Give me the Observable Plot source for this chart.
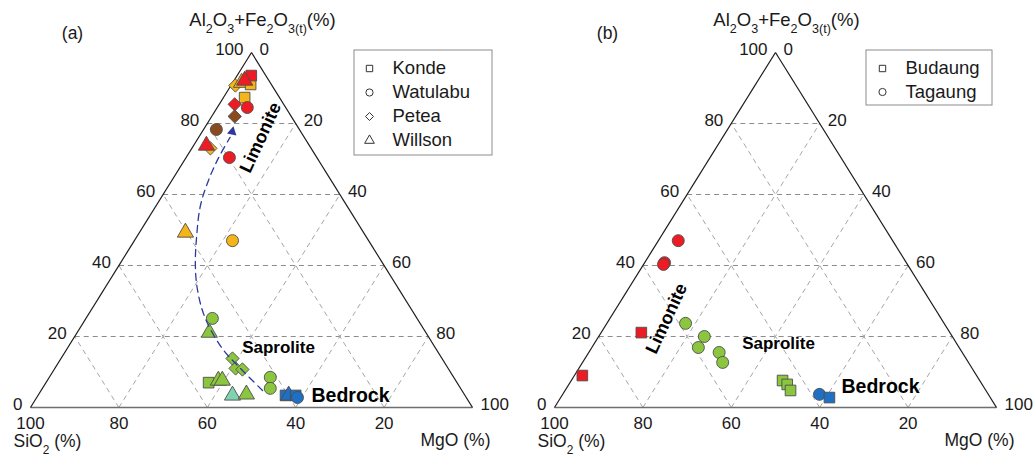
<!DOCTYPE html>
<html>
<head>
<meta charset="utf-8">
<script src="https://cdn.jsdelivr.net/npm/d3@7"></script>
<script src="https://cdn.jsdelivr.net/npm/@observablehq/plot@0.6"></script>
<style>
  html, body { margin: 0; padding: 0; background: #fff; }
  svg { display: block; }
</style>
</head>
<body>
<div id="chart"></div>
<script>
// ---------- Panel (a) data: SiO2, MgO, Al2O3+Fe2O3(t) in % ----------
const aSite = ["Petea","Willson","Konde","Konde","Willson","Konde","Petea","Watulabu","Petea","Watulabu","Petea","Willson","Watulabu","Willson","Watulabu","Watulabu","Willson","Petea","Petea","Petea","Konde","Willson","Willson","Willson","Willson","Watulabu","Watulabu","Konde","Willson","Konde","Watulabu"];
const aZone = ["lim-yellow","lim-yellow","lim-yellow","lim-red","lim-red","lim-yellow","lim-red","lim-red","lim-brown","lim-brown","lim-yellow","lim-red","lim-red","lim-yellow","lim-yellow","saprolite","saprolite","saprolite","saprolite","saprolite","saprolite","saprolite","saprolite","saprolite-light","saprolite","saprolite","saprolite","bedrock","bedrock","bedrock","bedrock"];
const aSiO2 = [8.3, 6.5, 4.7, 3.3, 5.5, 7.9, 11.1, 8.7, 12.8, 18.8, 22.8, 23.3, 19.8, 40.3, 30.8, 46.3, 49.0, 47.4, 48.1, 46.7, 56.2, 53.7, 52.8, 52.6, 49.3, 41.5, 43.1, 40.6, 39.9, 38.3, 38.2];
const aMgO  = [1.0, 2.0, 4.3, 3.2, 2.4, 4.8, 3.5, 6.8, 5.2, 2.9, 4.2, 2.9, 9.8, 10.4, 22.2, 28.6, 29.9, 38.8, 40.9, 42.6, 36.8, 38.7, 39.6, 44.0, 47.0, 50.0, 51.6, 56.0, 56.7, 58.3, 59.0];
const aAl   = [90.7, 91.5, 91.0, 93.5, 92.1, 87.3, 85.4, 84.5, 82.0, 78.3, 73.0, 73.8, 70.4, 49.3, 47.0, 25.1, 21.1, 13.8, 11.0, 10.7, 7.0, 7.6, 7.6, 3.4, 3.7, 8.5, 5.4, 3.4, 3.4, 3.4, 2.8];

// Weathering trend (dashed arrow) in panel (a)
const trendSiO2 = [45.1, 47.0, 48.3, 47.9, 45.7, 42.7, 38.2, 33.1, 27.8, 22.5, 16.8];
const trendMgO  = [50.1, 42.0, 35.1, 27.0, 21.3, 17.3, 13.4, 10.0, 8.3, 7.4, 7.1];
const trendAl   = [4.8, 11.0, 16.6, 25.1, 33.0, 40.0, 48.4, 56.9, 63.9, 70.1, 76.1];
const arrowTip  = {SiO2: 15.5, MgO: 6.8, Al: 77.7};

// ---------- Panel (b) data ----------
const bSite = ["Tagaung","Tagaung","Tagaung","Budaung","Budaung","Tagaung","Tagaung","Tagaung","Tagaung","Tagaung","Budaung","Budaung","Budaung","Tagaung","Budaung"];
const bZone = ["lim-red","lim-red","lim-red","lim-red","lim-red","saprolite","saprolite","saprolite","saprolite","saprolite","saprolite","saprolite","saprolite","bedrock","bedrock"];
const bSiO2 = [48.5, 54.7, 55.2, 69.8, 89.2, 58.5, 56.1, 59.0, 55.0, 55.6, 44.6, 44.1, 44.2, 38.2, 36.4];
const bMgO  = [4.5, 4.5, 4.5, 9.1, 1.8, 17.8, 23.9, 24.1, 29.5, 31.7, 47.8, 49.4, 51.0, 58.1, 60.8];
const bAl   = [47.0, 40.8, 40.3, 21.1, 9.0, 23.7, 20.0, 16.9, 15.5, 12.7, 7.6, 6.5, 4.8, 3.7, 2.8];

// ---------- Scales / labels ----------
const zoneKeys   = ["lim-red","lim-yellow","lim-brown","saprolite","saprolite-light","bedrock"];
const zoneColors = ["#ed1c24","#f5b519","#8b4a1e","#8cc63f","#7fd3b0","#1f70c4"];
const siteKeys    = ["Konde","Watulabu","Petea","Willson","Budaung","Tagaung"];
const siteSymbols = ["square","circle","diamond2","triangle","square","circle"];
const legendA = ["Konde","Watulabu","Petea","Willson"];
const legendB = ["Budaung","Tagaung"];
const leftTicks   = [0, 20, 40, 60, 80, 100];
const rightTicks  = [0, 20, 40, 60, 80, 100];
const bottomTicks = [100, 80, 60, 40, 20];
const gridValues  = [20, 40, 60, 80];
const topTitle = "Al_2O_3+Fe_2O_{3(t)}(%)";
const siTitle = "SiO_2 (%)";
const mgTitle = "MgO (%)";

// ---------- Ternary projection ----------
const W = 1034, H = 458;
const X0 = {a: 30, b: 554};
const SIDE = 442, HT = 355, YB = 407;
function project(p, S, M, A) {
  const t = S + M + A;
  return [X0[p] + SIDE * (M + A / 2) / t, YB - HT * A / t];
}
const panels = ["a", "b"];

const pts = [];
aSite.forEach((site, i) => { const [x, y] = project("a", aSiO2[i], aMgO[i], aAl[i]); pts.push({site, zone: aZone[i], x, y}); });
bSite.forEach((site, i) => { const [x, y] = project("b", bSiO2[i], bMgO[i], bAl[i]); pts.push({site, zone: bZone[i], x, y}); });

const trend = trendSiO2.map((s, i) => { const [x, y] = project("a", s, trendMgO[i], trendAl[i]); return {x, y}; });
const tip = (() => { const [x, y] = project("a", arrowTip.SiO2, arrowTip.MgO, arrowTip.Al); return [{x, y}]; })();

const grid = [];
const sides = [];
const base = [];
const lTicks = [], rTicks = [], bTicks = [];
for (const p of panels) {
  for (const v of gridValues) {
    const h1 = project(p, 100 - v, 0, v), h2 = project(p, 0, 100 - v, v);
    grid.push({x1: h1[0], y1: h1[1], x2: h2[0], y2: h2[1], k: "h"});
    const s1 = project(p, v, 100 - v, 0), s2 = project(p, v, 0, 100 - v);
    grid.push({x1: s1[0], y1: s1[1], x2: s2[0], y2: s2[1], k: "s"});
    const m1 = project(p, 100 - v, v, 0), m2 = project(p, 0, v, 100 - v);
    grid.push({x1: m1[0], y1: m1[1], x2: m2[0], y2: m2[1], k: "m"});
  }
  const L = project(p, 100, 0, 0), R = project(p, 0, 100, 0), T = project(p, 0, 0, 100);
  sides.push({x1: L[0], y1: L[1], x2: T[0], y2: T[1]}, {x1: R[0], y1: R[1], x2: T[0], y2: T[1]});
  base.push({x1: L[0], y1: L[1], x2: R[0], y2: R[1]});
  for (const a of leftTicks) { const [x, y] = project(p, 100 - a, 0, a); lTicks.push({x, y, t: String(a)}); }
  for (const m of rightTicks) { const [x, y] = project(p, 0, m, 100 - m); rTicks.push({x, y, t: String(m)}); }
  for (const s of bottomTicks) { const [x, y] = project(p, s, 100 - s, 0); bTicks.push({x, y, t: String(s)}); }
}

const legRows = [
  ...legendA.map((s, i) => ({site: s, x: 369, y: 68 + 24 * i})),
  ...legendB.map((s, i) => ({site: s, x: 882, y: 68 + 23.5 * i}))
];
const legBoxes = [{x1: 354, x2: 492, y1: 50, y2: 155}, {x1: 866, x2: 992, y1: 50, y2: 105}];

const FONT = "'Liberation Sans', Arial, Helvetica, sans-serif";

const chart = Plot.plot({
  width: W, height: H, margin: 0,
  x: {domain: [0, W], range: [0, W], axis: null},
  y: {domain: [0, H], range: [0, H], axis: null},
  color: {domain: zoneKeys, range: zoneColors},
  symbol: {domain: siteKeys, range: siteSymbols},
  style: {fontFamily: FONT, fontSize: "17px", background: "#fff", color: "#1a1a1a"},
  marks: [
    Plot.link(grid.filter(d => d.k === "h"), {x1: "x1", y1: "y1", x2: "x2", y2: "y2", stroke: "#8c8c8c", strokeWidth: 1, strokeDasharray: "5,4"}),
    Plot.link(grid.filter(d => d.k !== "h"), {x1: "x1", y1: "y1", x2: "x2", y2: "y2", stroke: "#a6a6a6", strokeWidth: 1, strokeDasharray: "5,4"}),
    Plot.link(base, {x1: "x1", y1: "y1", x2: "x2", y2: "y2", stroke: "#6e6e6e", strokeWidth: 1.6}),
    Plot.link(sides, {x1: "x1", y1: "y1", x2: "x2", y2: "y2", stroke: "#1a1a1a", strokeWidth: 1.2}),
    Plot.dot(pts, {x: "x", y: "y", fill: "zone", symbol: "site", r: 6, stroke: "#4d4d4d", strokeWidth: 0.9}),
    Plot.line(trend, {x: "x", y: "y", curve: "catmull-rom", stroke: "#2b3a9c", strokeWidth: 1.3, strokeDasharray: "7,5"}),
    Plot.dot(tip, {x: "x", y: "y", symbol: "triangle2", r: 4.6, fill: "#2b3a9c", stroke: "none", rotate: 12}),
    // tick labels
    Plot.text(lTicks, {x: "x", y: "y", text: "t", textAnchor: "end", dx: -8, dy: -3, fontSize: 17}),
    Plot.text(rTicks, {x: "x", y: "y", text: "t", textAnchor: "start", dx: 8, dy: -3, fontSize: 17}),
    Plot.text(bTicks, {x: "x", y: "y", text: "t", dy: 16, fontSize: 17}),
    // axis titles
    Plot.text(panels, {x: p => X0[p] + 232, y: 20, text: () => topTitle, fontSize: 18.5}),
    Plot.text(panels, {x: p => X0[p] - 17, y: 441, text: () => siTitle, textAnchor: "start", fontSize: 17.5}),
    Plot.text(panels, {x: p => X0[p] + SIDE + 18, y: 440, text: () => mgTitle, textAnchor: "end", fontSize: 17.5}),
    Plot.text(panels, {x: p => X0[p] + (p === "a" ? 42 : 53), y: 33, text: p => `(${p})`, fontSize: 17.5}),
    // zone annotations
    Plot.text(panels, {x: p => X0[p] + (p === "a" ? 230 : 112), y: p => (p === "a" ? 137 : 318), text: () => "Limonite", rotate: -65, fontWeight: "bold", fontSize: 18, fill: "#000"}),
    Plot.text(panels, {x: p => X0[p] + (p === "a" ? 248 : 224), y: p => (p === "a" ? 347 : 343), text: () => "Saprolite", fontWeight: "bold", fontSize: 17, fill: "#000"}),
    Plot.text(panels, {x: p => X0[p] + (p === "a" ? 320 : 326), y: p => (p === "a" ? 395 : 386), text: () => "Bedrock", fontWeight: "bold", fontSize: 19.5, fill: "#000"}),
    // legends
    Plot.rect(legBoxes, {x1: "x1", x2: "x2", y1: "y1", y2: "y2", fill: "#fff", stroke: "#8c8c8c", strokeWidth: 1}),
    Plot.dot(legRows, {x: "x", y: "y", symbol: "site", r: 3.6, fill: "#fff", stroke: "#333", strokeWidth: 1}),
    Plot.text(legRows, {x: "x", y: "y", text: "site", dx: 23, textAnchor: "start", fontSize: 18.5})
  ]
});

// rich text: convert _x / _{xyz} into subscripts
const NS = "http://www.w3.org/2000/svg";
d3.select(chart).selectAll("text").each(function () {
  const s = this.textContent;
  if (!s.includes("_")) return;
  while (this.firstChild) this.removeChild(this.firstChild);
  const re = /_(\{([^}]*)\}|(.))/g;
  let last = 0, m;
  const add = (txt, sub) => {
    const ts = document.createElementNS(NS, "tspan");
    ts.textContent = txt;
    if (sub) { ts.setAttribute("baseline-shift", "sub"); ts.setAttribute("font-size", "68%"); }
    this.appendChild(ts);
  };
  while ((m = re.exec(s))) {
    if (m.index > last) add(s.slice(last, m.index), false);
    add(m[2] !== undefined ? m[2] : m[3], true);
    last = re.lastIndex;
  }
  if (last < s.length) add(s.slice(last), false);
});

document.getElementById("chart").appendChild(chart);
</script>
</body>
</html>
